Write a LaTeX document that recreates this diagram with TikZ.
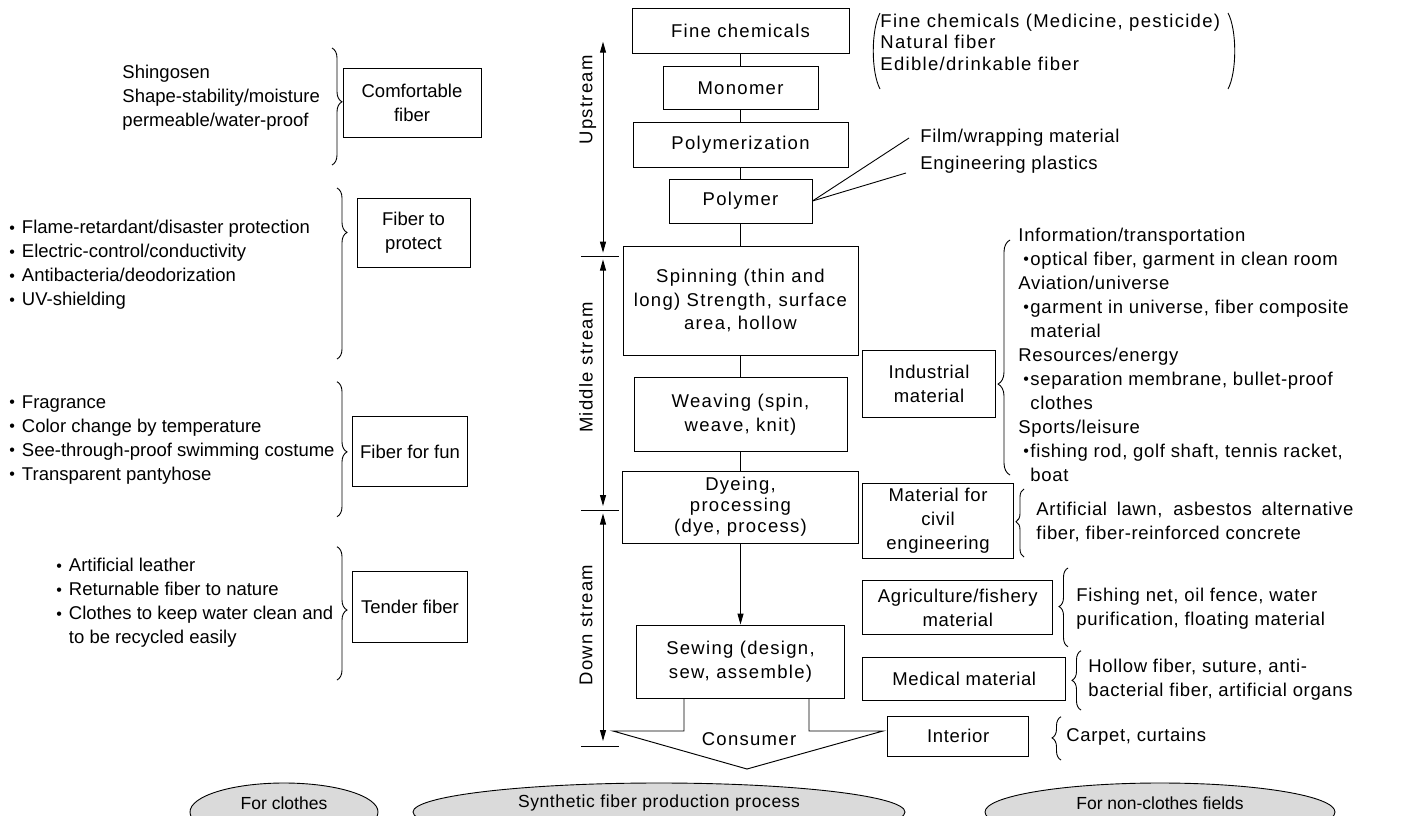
\documentclass[tikz,border=0pt]{standalone}
\usepackage{fontspec}
\setmainfont{Liberation Sans}
\newfontfamily\fA{Liberation Sans}
\newfontfamily\fB{Liberation Sans}[LetterSpace=7]
\newfontfamily\fC{Liberation Sans}[LetterSpace=3.5]
\usetikzlibrary{arrows.meta,decorations.pathreplacing,shapes.geometric,calc}
\newcommand\fntA{\fA\fontsize{18.5}{24}\selectfont}
\newcommand\fntB{\fB\fontsize{18.5}{23.5}\selectfont}
\newcommand\fntC{\fC\fontsize{18.5}{24}\selectfont}
\newcommand\fntD{\fB\fontsize{18.5}{21}\selectfont}
\newcommand\fntP{\fB\fontsize{18.5}{21.5}\selectfont}
\newcommand\sbul{\raisebox{0.6pt}{\fontsize{16}{16}\selectfont\fA •}}
\newcommand\bul{\makebox[12.5pt][l]{\sbul}}
\newcommand\bi{\makebox[12pt][l]{\hspace{5pt}\sbul}}
\newcommand\ind{\hspace*{12pt}}
\definecolor{ovalgray}{RGB}{218,218,218}
\begin{document}
\begin{tikzpicture}[x=1pt,y=-1pt,
  line width=0.95pt,
  >={Triangle[length=11pt,width=6pt]},
  box/.style={draw, line width=0.95pt, inner sep=0pt, align=center},
  lbl/.style={inner sep=0pt, align=left, anchor=west},
  br/.style 2 args={decorate, decoration={brace, amplitude=#2, aspect=#1}, line width=0.9pt},
  oval/.style={ellipse, draw, fill=ovalgray, line width=0.9pt, inner sep=0pt}]
\fill[white] (0,0) rectangle (1410,816);
\useasboundingbox (0,0) rectangle (1410,816);
\clip (0,0) rectangle (1410,816);

% central column
\node[box, font=\fntB, minimum width=217pt, minimum height=45pt] (fine) at (740.5,30.8) {Fine chemicals};
\node[box, font=\fntB, minimum width=155pt, minimum height=43pt] (mono) at (740.5,88.3) {Monomer};
\node[box, font=\fntB, minimum width=215pt, minimum height=45pt] (polz) at (740.5,145) {Polymerization};
\node[box, font=\fntB, minimum width=143pt, minimum height=44pt] (poly) at (740.5,201) {Polymer};
\node[box, font=\fntB, minimum width=235pt, minimum height=109pt] (spin) at (740.5,300.5) {Spinning (thin and\\long) Strength, surface\\area, hollow};
\node[box, font=\fntB, minimum width=213pt, minimum height=74pt] (weave) at (740.5,414.7) {Weaving (spin,\\weave, knit)};
\node[box, font=\fntD, minimum width=236pt, minimum height=72pt] (dye) at (740.5,507) {Dyeing,\\processing\\(dye, process)};
\node[box, font=\fntB, minimum width=208pt, minimum height=73pt] (sew) at (740.5,661.5) {Sewing (design,\\sew, assemble)};

\draw (fine) -- (mono);
\draw (mono) -- (polz);
\draw (polz) -- (poly);
\draw (poly) -- (spin);
\draw (spin) -- (weave);
\draw (weave) -- (dye);
\draw[->] (dye) -- (sew);

% consumer arrow shape
\coordinate (c1) at (684,731);
\coordinate (c2) at (613,731);
\coordinate (apex) at (747,769);
\coordinate (c3) at (883,731);
\coordinate (c4) at (809,731);
\draw[line join=miter] (c1 |- sew.south) -- (c1) -- (c2) -- (apex) -- (c3) -- (c4) -- (c4 |- sew.south);
\node[font=\fntB, inner sep=0pt] (cons) at (749,739) {Consumer};

% stream markers
\coordinate (uT) at (603,41.7);
\coordinate (uB) at (603,252.7);
\coordinate (mT) at (603,259.5);
\coordinate (mB) at (603,506);
\coordinate (dT) at (603,513.5);
\coordinate (dB) at (603,741);
\draw[<->] (uB) -- (uT);
\draw[<->] (mB) -- (mT);
\draw[<->] (dB) -- (dT);
\coordinate (k1a) at (581,256.7); \coordinate (k1b) at (619,256.7);
\coordinate (k2a) at (581,510.5); \coordinate (k2b) at (619,510.5);
\coordinate (k3a) at (581,746);   \coordinate (k3b) at (619,746);
\draw (k1a) -- (k1b);
\draw (k2a) -- (k2b);
\draw (k3a) -- (k3b);
\node[font=\fntB, rotate=90, inner sep=0pt] (up) at (588,100) {Upstream};
\node[font=\fntB, rotate=90, inner sep=0pt] (mid) at (586,367.5) {Middle stream};
\node[font=\fntB, rotate=90, inner sep=0pt] (down) at (586,625) {Down stream};

% left boxes
\node[box, font=\fntA, minimum width=138pt, minimum height=69pt] (comf) at (412,103) {Comfortable\\fiber};
\node[box, font=\fntA, minimum width=113pt, minimum height=69pt] (prot) at (413.5,233) {Fiber to\\protect};
\node[box, font=\fntA, minimum width=115pt, minimum height=70pt] (fun) at (410,451.7) {Fiber for fun};
\node[box, font=\fntA, minimum width=115pt, minimum height=71pt] (tend) at (410,607) {Tender fiber};

% left braces
\draw[br={0.46}{10pt}] (332,48) -- (332,165);
\draw[br={0.26}{10pt}] (337,188) -- (337,359);
\draw[br={0.52}{10pt}] (337,381.7) -- (337,516.7);
\draw[br={0.475}{10pt}] (337,546.7) -- (337,680);

% left texts
\node[lbl, font=\fntA] (t1) at (122,98) {Shingosen\\Shape-stability/moisture\\permeable/water-proof};
\node[lbl, font=\fntA] (t2) at (9,265) {\bul Flame-retardant/disaster protection\\\bul Electric-control/conductivity\\\bul Antibacteria/deodorization\\\bul UV-shielding};
\node[lbl, font=\fntA] (t3) at (9,440) {\bul Fragrance\\\bul Color change by temperature\\\bul See-through-proof swimming costume\\\bul Transparent pantyhose};
\node[lbl, font=\fntA] (t4) at (56,603) {\bul Artificial leather\\\bul Returnable fiber to nature\\\bul Clothes to keep water clean and\\\hspace*{12.5pt}to be recycled easily};

% top right
\node[lbl, font=\fntP] (tp) at (880,42) {Fine chemicals (Medicine, pesticide)\\Natural fiber\\Edible/drinkable fiber};
\coordinate (pl1) at (880,13); \coordinate (pl2) at (880,89);
\coordinate (pr1) at (1228,13); \coordinate (pr2) at (1228,89);
\draw[line width=0.9pt] (pl1) .. controls (871,30) and (871,72) .. (pl2);
\draw[line width=0.9pt] (pr1) .. controls (1237,30) and (1237,72) .. (pr2);

\node[lbl, font=\fntC] (film) at (920,138) {Film/wrapping material};
\node[lbl, font=\fntC] (eng) at (920,165) {Engineering plastics};
\coordinate (fe) at (909,138);
\coordinate (ee) at (906,173);
\draw[line width=0.9pt] (poly.east) -- (fe);
\draw[line width=0.9pt] (poly.east) -- (ee);

% right boxes
\node[box, font=\fntC, minimum width=133pt, minimum height=67pt] (ind) at (929,384) {Industrial\\material};
\node[box, font=\fntC, minimum width=151pt, minimum height=75pt] (civ) at (938,521) {Material for\\civil\\engineering};
\node[box, font=\fntC, minimum width=190pt, minimum height=54pt] (agri) at (957.7,607.5) {Agriculture/fishery\\material};
\node[box, font=\fntC, minimum width=203pt, minimum height=43pt] (med) at (964.2,678.7) {Medical material};
\node[box, font=\fntC, minimum width=141pt, minimum height=40pt] (inter) at (958.2,736) {Interior};

% right braces
\draw[br={0.387}{12pt}] (1010,475) -- (1010,240);
\draw[br={0.52}{8pt}] (1024,557) -- (1024,489);
\draw[br={0.51}{9pt}] (1068,646.7) -- (1068,568);
\draw[br={0.5}{9pt}] (1081,710) -- (1081,650.7);
\draw[br={0.51}{9pt}] (1061,760) -- (1061,716.7);

% right texts
\node[lbl, font=\fntC] (ti) at (1018,354.5) {Information/transportation\\\bi optical fiber, garment in clean room\\Aviation/universe\\\bi garment in universe, fiber composite\\\ind material\\Resources/energy\\\bi separation membrane, bullet-proof\\\ind clothes\\Sports/leisure\\\bi fishing rod, golf shaft, tennis racket,\\\ind boat};
\node[lbl, font=\fntC] (tc) at (1036,521.5) {\makebox[317pt][s]{Artificial lawn, asbestos alternative}\\fiber, fiber-reinforced concrete};
\node[lbl, font=\fntC] (ta) at (1076,609) {Fishing net, oil fence, water\\purification, floating material};
\node[lbl, font=\fntC] (tm) at (1088,680) {Hollow fiber, suture, anti-\\bacterial fiber, artificial organs};
\node[lbl, font=\fntC] (tin) at (1066,737) {Carpet, curtains};

% bottom ovals
\node[oval, minimum width=188pt, minimum height=58pt] (o1) at (284,812) {};
\node[oval, minimum width=492pt, minimum height=58pt] (o2) at (659,812) {};
\node[oval, minimum width=350pt, minimum height=58pt] (o3) at (1160,812) {};
\node[font=\fA\fontsize{17.5}{20}\selectfont, inner sep=0pt] (o1t) at (284,803) {For clothes};
\node[font=\fC\fontsize{17.5}{20}\selectfont, inner sep=0pt] (o2t) at (659,803) {Synthetic fiber production process};
\node[font=\fA\fontsize{17.5}{20}\selectfont, inner sep=0pt] (o3t) at (1160,803) {For non-clothes fields};
\end{tikzpicture}
\end{document}
